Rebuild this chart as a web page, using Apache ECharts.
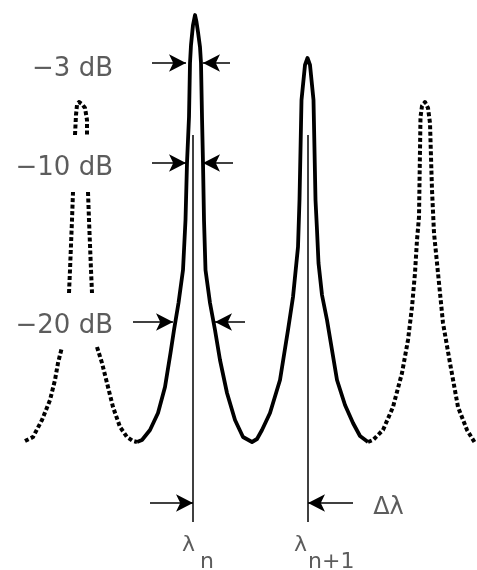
<!DOCTYPE html>
<html><head><meta charset="utf-8">
<script src="https://cdn.jsdelivr.net/npm/echarts@6/dist/echarts.min.js"></script>
<style>html,body{margin:0;padding:0;background:#fff}#c{width:477px;height:570px}</style>
</head><body><div id="c"></div>
<script>
// x: relative wavelength position, y: relative transmission (baseline = 0)
const leftDotted = [
  [25,1],[33,5],[42,22],[50,42],[55,62],[58,79],[62,95], '-',
  [69,149],[70,172],[71,197],[72,222],[73,250], '-',
  [75,307],[76,327],[77,337],[79,340],[82,338],[85,334],[87,322],[87,307], '-',
  [88,250],[89,222],[90,197],[91,172],[92,149], '-',
  [97,95],[102,79],[107,59],[113,35],[120,15],[127,5],[133,1],[137,0]
];
const solidPeaks = [
  [137,0],[142,2],[150,12],[158,29],[165,55],[170.5,89],[174,112],[178.5,139],[183,172],[185.5,222],[187,279],[189,325],[189.5,352],[190,379],[191,397],[193,417],[195,427],
  [196.5,420],[198,410],[200,395],[201,379],[201.5,352],[202,325],[203,279],[204,222],[205.5,172],[210,139],[215,112],[220,82],[227,49],[235,22],[243,5],[252,0],
  [257,3],[262,12],[270,29],[280,62],[288,112],[293,145],[298,195],[299.5,242],[300.5,292],[301.5,342],[303.5,362],[305,377],[307.5,384],
  [310,377],[311.5,362],[313.5,342],[314.5,292],[315.5,242],[317,212],[318.5,179],[322,147],[327,122],[332,92],[337,62],[345,37],[353,19],[360,6],[368,0]
];
const rightDotted = [
  [368,0],[373,2],[383,12],[393,35],[402,69],[408,102],[412,135],[415,169],[417,202],[419,225],[420,292],[420.5,325],[422,336],[425,340],
  [428,334],[430,319],[431,285],[432,252],[434,209],[438,169],[443,119],[450,79],[458,35],[467,12],[475,-1]
];
// wavelength markers
const lambdaX = [193, 308];
const markerTop = 307, markerBottom = -80;
const lambdaSymbol = ['λ', 'λ'];
const lambdaSymbolPos = [[182,-103.5],[294,-103.5]];
const lambdaSub = ['n', 'n+1'];
const lambdaSubPos = [[200,-120.5],[308,-120.5]];
// dB widths: label, level, left arrow [from,to], right arrow [from,to]
const dbLabels = ['−3 dB', '−10 dB', '−20 dB'];
const dbLabelY = [373, 274, 116];
const dbLevels = [379, 279, 120];
const dbLeftArrow = [[152,186],[152,186],[133,173]];
const dbRightArrow = [[230,203],[233,203],[245,215]];
const dlLevel = -61;
const dlArrows = [[150,193],[353,308]];
const dlLabel = 'Δλ';
const dlLabelPos = [388.5,-66];
const dbLabelRight = 113;

const chart = echarts.init(document.getElementById('c'), null, {renderer:'canvas'});
const arrowLines = [];
dbLevels.forEach((y,i)=>{
  arrowLines.push([{coord:[dbLeftArrow[i][0],y]},{coord:[dbLeftArrow[i][1],y]}]);
  arrowLines.push([{coord:[dbRightArrow[i][0],y]},{coord:[dbRightArrow[i][1],y]}]);
});
dlArrows.forEach(a=>arrowLines.push([{coord:[a[0],dlLevel]},{coord:[a[1],dlLevel]}]));
const vLines = lambdaX.map(x=>[{coord:[x,markerTop],symbol:'none'},{coord:[x,markerBottom],symbol:'none'}]);

const textColor = '#333';
const font = 'DejaVu Sans';
function textSeries(texts, positions, size, extra){
  return {type:'scatter',symbolSize:0,silent:true,
    data:texts.map((t,i)=>({value:positions[i],name:t})),
    label:Object.assign({show:true,formatter:p=>p.name,fontFamily:font,fontSize:size,color:textColor},extra)};
}
chart.setOption({
  animation:false,
  backgroundColor:'#fff',
  grid:{left:0,right:0,top:0,bottom:0},
  xAxis:{type:'value',min:0,max:477,show:false},
  yAxis:{type:'value',min:-128,max:442,show:false},
  series:[
    {type:'line',data:leftDotted,showSymbol:false,connectNulls:false,
     lineStyle:{color:'#000',width:4,type:[4,2.5],cap:'butt',join:'round'}},
    {type:'line',data:solidPeaks,showSymbol:false,
     lineStyle:{color:'#000',width:3.8,join:'round'},
     markLine:{silent:true,symbol:['none','arrow'],symbolSize:[13,17],
       label:{show:false},lineStyle:{color:'#000',width:1.5,type:'solid'},
       emphasis:{disabled:true},
       data:arrowLines.concat(vLines)}},
    {type:'line',data:rightDotted,showSymbol:false,
     lineStyle:{color:'#000',width:4,type:[4,2.5],cap:'butt',join:'round'}},
    textSeries(dbLabels, dbLabels.map((t,i)=>[dbLabelRight,dbLabelY[i]]), 26, {position:'left',distance:0}),
    textSeries(lambdaSymbol, lambdaSymbolPos, 22, {position:[0,0],align:'left',verticalAlign:'middle'}),
    textSeries(lambdaSub, lambdaSubPos, 22, {position:[0,0],align:'left',verticalAlign:'middle'}),
    textSeries([dlLabel], [dlLabelPos], 24, {position:'inside'})
  ]
});
</script>
</body></html>
